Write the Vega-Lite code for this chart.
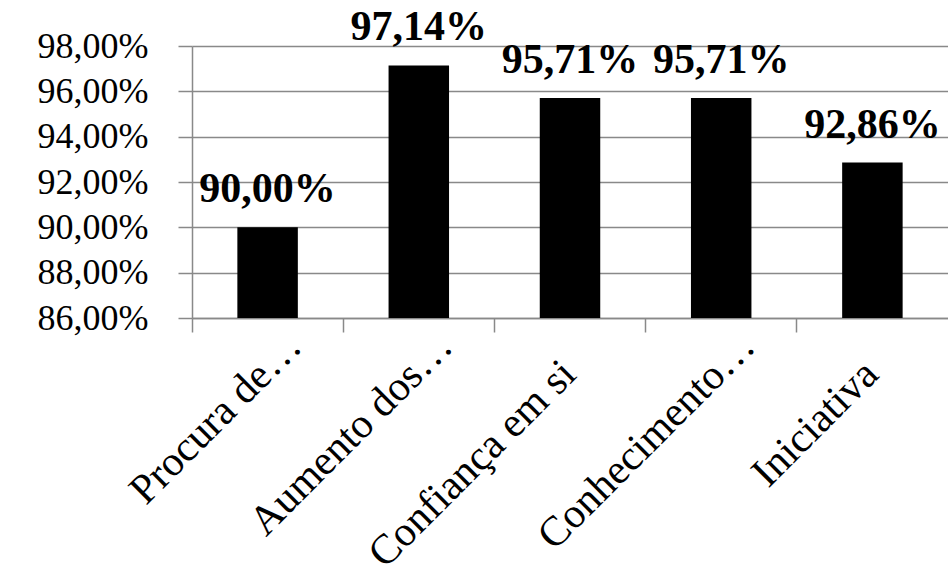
{
  "$schema": "https://vega.github.io/schema/vega-lite/v6.json",
  "autosize": "none",
  "width": 756,
  "height": 272,
  "padding": {"left": 192, "top": 46, "right": 0, "bottom": 259},
  "background": "white",
  "config": {
    "locale": {"number": {"decimal": ",", "thousands": ".", "grouping": [3], "currency": ["", " €"]}},
    "view": {"stroke": null},
    "font": "Liberation Serif"
  },
  "data": {
    "values": [
      {"categoria": "Procura de…", "valor": 0.9},
      {"categoria": "Aumento dos…", "valor": 0.9714},
      {"categoria": "Confiança em si", "valor": 0.9571},
      {"categoria": "Conhecimento…", "valor": 0.9571},
      {"categoria": "Iniciativa", "valor": 0.9286}
    ]
  },
  "encoding": {
    "x": {
      "field": "categoria",
      "type": "nominal",
      "sort": null,
      "scale": {"paddingInner": 0, "paddingOuter": 0},
      "axis": {
        "title": null,
        "bandPosition": 0,
        "domainColor": "#898989",
        "domainWidth": 1.5,
        "tickColor": "#898989",
        "tickWidth": 1.5,
        "tickSize": 14,
        "labelAngle": -45,
        "labelAlign": "right",
        "labelBaseline": "alphabetic",
        "labelOffset": {"condition": {"test": "indexof(datum.value, '…') >= 0", "value": 36}, "value": 8},
        "labelPadding": {"condition": {"test": "indexof(datum.value, '…') >= 0", "value": 16}, "value": 44},
        "labelFont": "Liberation Serif",
        "labelFontSize": 42,
        "labelColor": "black",
        "labelLimit": 400
      }
    },
    "y": {
      "field": "valor",
      "type": "quantitative",
      "scale": {"domain": [0.86, 0.98], "zero": false, "nice": false},
      "axis": {
        "title": null,
        "format": ".2%",
        "values": [0.86, 0.88, 0.9, 0.92, 0.94, 0.96, 0.98],
        "grid": true,
        "gridColor": "#898989",
        "gridWidth": 1.5,
        "domainColor": "#898989",
        "domainWidth": 1.5,
        "tickColor": "#898989",
        "tickWidth": 1.5,
        "tickSize": 14,
        "labelPadding": 30,
        "labelFont": "Liberation Serif",
        "labelFontSize": 36,
        "labelColor": "black",
        "labelBaseline": "middle"
      }
    }
  },
  "layer": [
    {
      "mark": {"type": "bar", "color": "black", "width": {"band": 0.4}, "clip": true}
    },
    {
      "mark": {
        "type": "text",
        "font": "Liberation Serif",
        "fontWeight": "bold",
        "fontSize": 42,
        "color": "black",
        "baseline": "alphabetic",
        "dy": -25
      },
      "encoding": {
        "text": {"field": "valor", "type": "quantitative", "format": ".2%"}
      }
    }
  ]
}
